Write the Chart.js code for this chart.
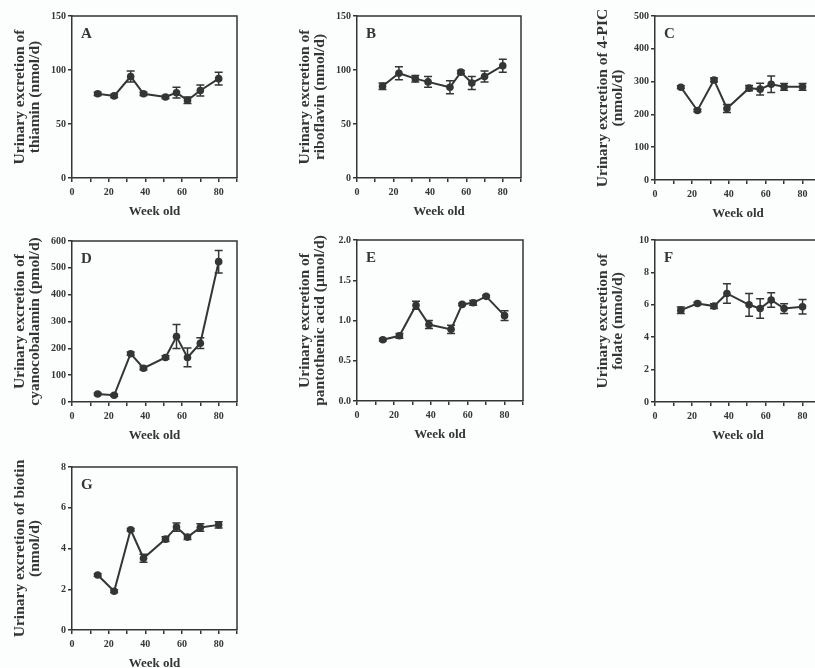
<!DOCTYPE html>
<html>
<head>
<meta charset="utf-8">
<script src="https://cdn.jsdelivr.net/npm/chart.js@4.4.1/dist/chart.umd.min.js"></script>
<style>
  html, body { margin: 0; padding: 0; }
  body { width: 815px; height: 668px; overflow: hidden; position: relative; background: #fcfdfd; }
  canvas { position: absolute; }
</style>
</head>
<body>
<script>
// weeks of age (x values, shared by all panels)
const weeks = [14, 23, 32, 39, 51, 57, 63, 70, 80];
const xTicks = [0, 20, 40, 60, 80];

// A thiamin (nmol/d)
const thiamin = [78, 76, 94, 78, 75, 79, 72, 81, 92];
const thiaminErr = [1.5, 1.5, 5, 1.5, 1.5, 5, 3, 5, 6];
// B riboflavin (nmol/d)
const riboflavin = [85, 97, 92, 89, 84, 98, 88, 94, 104];
const riboflavinErr = [3, 6, 3, 5, 6, 1.5, 6, 5, 6];
// C 4-PIC (nmol/d)
const pic = [283, 212, 305, 218, 280, 277, 292, 284, 284];
const picErr = [4, 4, 6, 12, 8, 18, 25, 10, 10];
// D cyanocobalamin (pmol/d)
const cyanocobalamin = [30, 25, 180, 126, 166, 244, 166, 219, 523];
const cyanocobalaminErr = [4, 4, 6, 6, 6, 45, 35, 20, 42];
// E pantothenic acid (umol/d)
const pantothenic = [0.76, 0.81, 1.19, 0.95, 0.89, 1.20, 1.22, 1.30, 1.06];
const pantothenicErr = [0.015, 0.03, 0.05, 0.05, 0.05, 0.015, 0.03, 0.015, 0.06];
// F folate (nmol/d)
const folate = [5.67, 6.08, 5.92, 6.7, 6.0, 5.77, 6.3, 5.77, 5.88];
const folateErr = [0.2, 0.08, 0.15, 0.6, 0.7, 0.6, 0.45, 0.3, 0.45];
// G biotin (nmol/d)
const biotin = [2.7, 1.9, 4.92, 3.52, 4.46, 5.05, 4.56, 5.03, 5.16];
const biotinErr = [0.06, 0.06, 0.06, 0.2, 0.12, 0.2, 0.12, 0.18, 0.15];

const ink = '#353535';
const serif = '"Liberation Serif", "DejaVu Serif", serif';

// frame (top/right sides of the box) + panel letter
const framePlugin = {
  id: 'frame',
  beforeDatasetsDraw(chart) {
    const a = chart.chartArea, ctx = chart.ctx;
    ctx.save();
    ctx.strokeStyle = ink;
    ctx.lineWidth = 1.5;
    ctx.beginPath();
    ctx.moveTo(a.left, a.top);
    ctx.lineTo(a.right, a.top);
    ctx.lineTo(a.right, a.bottom);
    ctx.stroke();
    ctx.fillStyle = ink;
    ctx.font = 'bold 15px ' + serif;
    ctx.textBaseline = 'alphabetic';
    ctx.fillText(chart.options.plugins.frame.letter, a.left + 9, a.top + 22);
    ctx.restore();
  }
};

// error bars drawn from the y scale
const errorBarPlugin = {
  id: 'errbars',
  afterDatasetsDraw(chart) {
    const errs = chart.options.plugins.errbars.errors;
    const meta = chart.getDatasetMeta(0);
    const ys = chart.scales.y;
    const vals = chart.data.datasets[0].data;
    const ctx = chart.ctx;
    ctx.save();
    ctx.strokeStyle = ink;
    ctx.lineWidth = 1.5;
    meta.data.forEach((pt, i) => {
      const v = vals[i].y, e = errs[i];
      const t = ys.getPixelForValue(v + e), b = ys.getPixelForValue(v - e);
      ctx.beginPath();
      ctx.moveTo(pt.x, t); ctx.lineTo(pt.x, b);
      ctx.moveTo(pt.x - 4, t); ctx.lineTo(pt.x + 4, t);
      ctx.moveTo(pt.x - 4, b); ctx.lineTo(pt.x + 4, b);
      ctx.stroke();
    });
    ctx.restore();
  }
};

function makePanel(letter, box, yTitle, yMax, yStep, values, errors, decimals) {
  const padL = 72, padT = 16, padR = 8, padB = 44;
  const cv = document.createElement('canvas');
  const w = (box.right - box.left) + padL + padR;
  const h = (box.bottom - box.top) + padT + padB;
  cv.width = w; cv.height = h;
  cv.style.left = (box.left - padL) + 'px';
  cv.style.top = (box.top - padT) + 'px';
  cv.style.width = w + 'px'; cv.style.height = h + 'px';
  document.body.appendChild(cv);

  const tickFont = { family: serif, size: 10, weight: 'bold' };
  const axisCommon = {
    grid: { drawOnChartArea: false, drawTicks: true, tickLength: 4, color: ink, lineWidth: 1.5 },
    border: { color: ink, width: 1.5 }
  };

  new Chart(cv.getContext('2d'), {
    type: 'line',
    data: {
      datasets: [{
        data: weeks.map((wk, i) => ({ x: wk, y: values[i] })),
        borderColor: ink,
        backgroundColor: ink,
        borderWidth: 2,
        pointRadius: 3.8,
        pointBorderWidth: 0,
        tension: 0
      }]
    },
    options: {
      responsive: false,
      animation: false,
      layout: { padding: { top: padT, right: padR, left: 0, bottom: 0 } },
      plugins: {
        legend: { display: false },
        tooltip: { enabled: false },
        frame: { letter: letter },
        errbars: { errors: errors }
      },
      scales: {
        x: {
          type: 'linear', min: 0, max: 90,
          afterFit: s => { s.height = padB; },
          ticks: {
            stepSize: 10, autoSkip: false, maxRotation: 0, padding: 4,
            color: ink, font: tickFont,
            callback: v => xTicks.includes(v) ? String(v) : ''
          },
          title: { display: true, text: 'Week old', color: ink,
                   font: { family: serif, size: 13, weight: 'bold' },
                   padding: { top: 0, bottom: 3 } },
          ...axisCommon
        },
        y: {
          min: 0, max: yMax,
          afterFit: s => { s.width = padL; },
          ticks: {
            stepSize: yStep, padding: 2, color: ink, font: tickFont,
            callback: v => decimals ? v.toFixed(1) : String(v)
          },
          title: { display: true, text: yTitle, color: ink,
                   font: { family: serif, size: 15.5, weight: 'bold', lineHeight: 0.97 },
                   padding: { top: 12, bottom: 2 } },
          ...axisCommon
        }
      }
    },
    plugins: [framePlugin, errorBarPlugin]
  });
}

makePanel('A', { left: 72, right: 237, top: 16, bottom: 178 },
  ['Urinary excretion of', 'thiamin (nmol/d)'], 150, 50, thiamin, thiaminErr, false);
makePanel('B', { left: 357, right: 521, top: 16, bottom: 178 },
  ['Urinary excretion of', 'riboflavin (nmol/d)'], 150, 50, riboflavin, riboflavinErr, false);
makePanel('C', { left: 655, right: 821, top: 16, bottom: 180 },
  ['Urinary excretion of 4-PIC', '(nmol/d)'], 500, 100, pic, picErr, false);
makePanel('D', { left: 72, right: 237, top: 241, bottom: 402 },
  ['Urinary excretion of', 'cyanocobalamin (pmol/d)'], 600, 100, cyanocobalamin, cyanocobalaminErr, false);
makePanel('E', { left: 357, right: 523, top: 240, bottom: 401 },
  ['Urinary excretion of', 'pantothenic acid (\u03bcmol/d)'], 2.0, 0.5, pantothenic, pantothenicErr, true);
makePanel('F', { left: 655, right: 821, top: 240, bottom: 402 },
  ['Urinary excretion of', 'folate (nmol/d)'], 10, 2, folate, folateErr, false);
makePanel('G', { left: 72, right: 237, top: 467, bottom: 630 },
  ['Urinary excretion of biotin', '(nmol/d)'], 8, 2, biotin, biotinErr, false);
</script>
</body>
</html>
